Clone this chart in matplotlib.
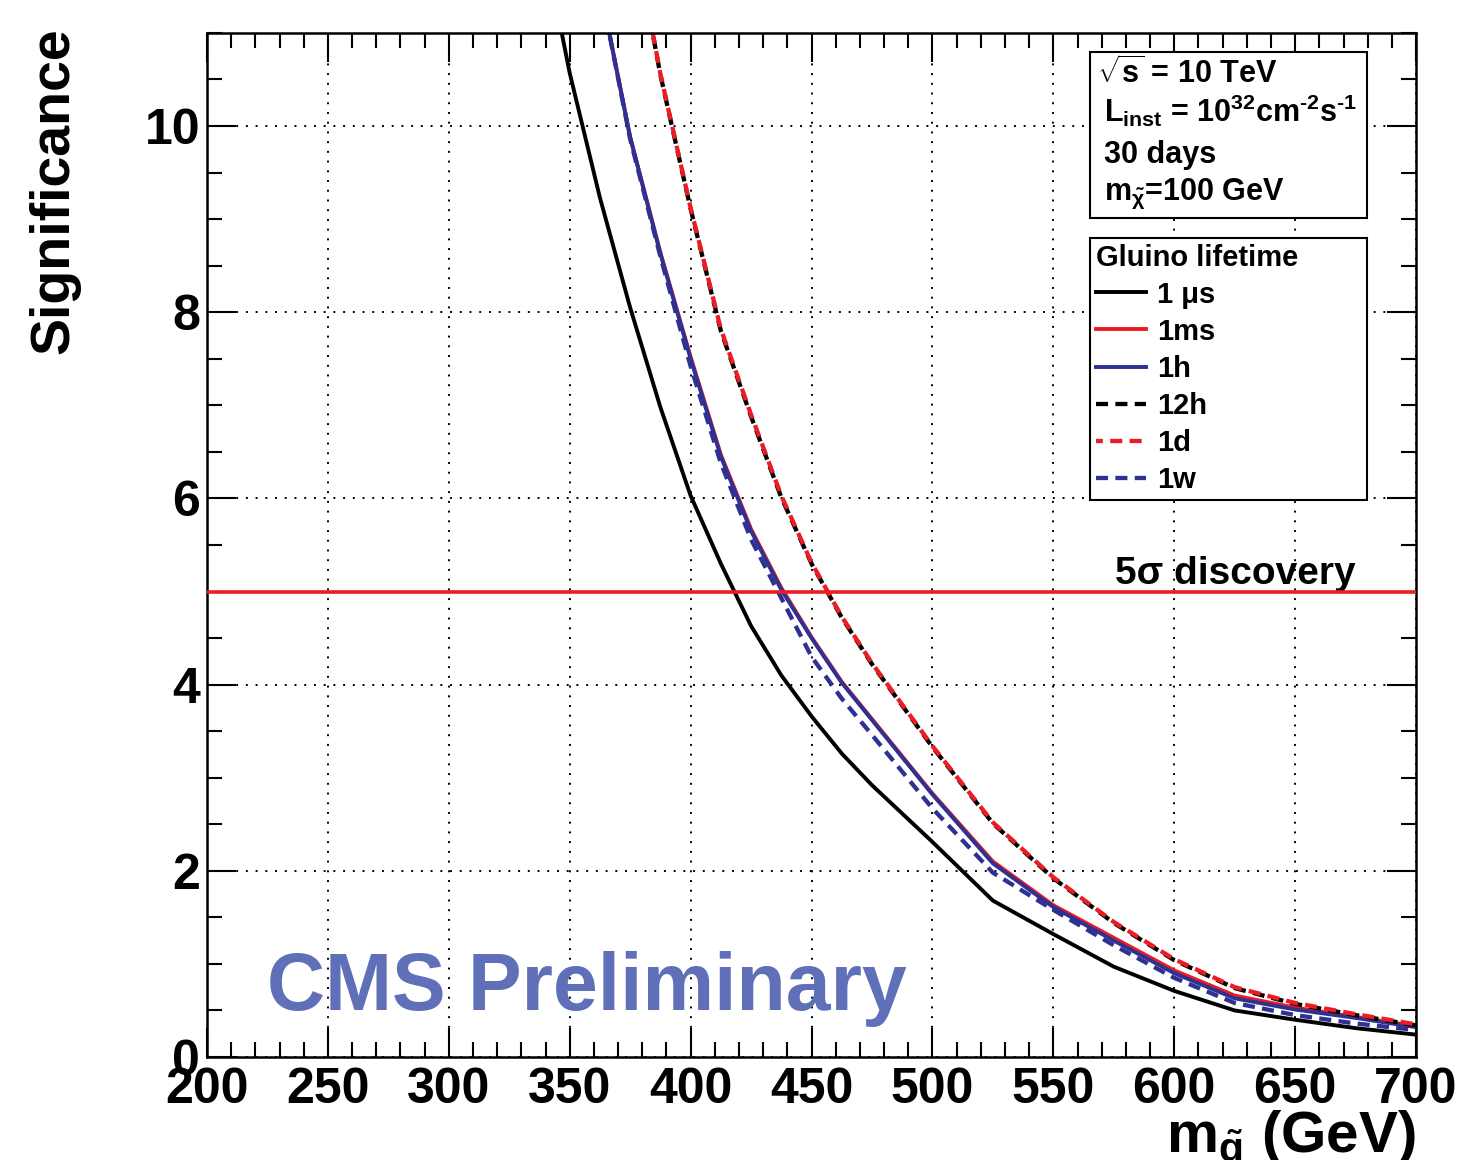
import matplotlib
matplotlib.use("Agg")
import matplotlib.pyplot as plt
from matplotlib.patches import Rectangle
from matplotlib.ticker import MultipleLocator

plt.rcParams['font.family'] = ['Liberation Sans', 'DejaVu Sans']
plt.rcParams['font.weight'] = 'bold'
plt.rcParams['mathtext.fontset'] = 'custom'
plt.rcParams['mathtext.rm'] = 'Liberation Sans:bold'
plt.rcParams['mathtext.it'] = 'Liberation Sans:bold'
plt.rcParams['mathtext.bf'] = 'Liberation Sans:bold'

# gluino mass (GeV)
mass = [325, 337.5, 350, 362.5, 375, 387.5, 400, 412.5, 425, 437.5, 450, 462.5,
        475, 500, 525, 550, 575, 600, 625, 650, 675, 700]

# significance for each gluino lifetime
sig_1us = [14.2, 12.2, 10.57, 9.23, 8.05, 6.98, 6.03, 5.3, 4.63, 4.1, 3.66, 3.26,
           2.92, 2.31, 1.68, 1.32, 0.97, 0.71, 0.5, 0.4, 0.31, 0.24]
sig_1ms = [16.5, 15.0, 13.2, 11.5, 9.88, 8.64, 7.52, 6.47, 5.67, 5.04, 4.51, 4.03,
           3.63, 2.83, 2.10, 1.63, 1.28, 0.93, 0.66, 0.53, 0.43, 0.33]
sig_1h = [16.5, 15.0, 13.2, 11.5, 9.88, 8.63, 7.5, 6.45, 5.65, 5.02, 4.5, 4.02,
          3.62, 2.82, 2.08, 1.61, 1.25, 0.9, 0.63, 0.51, 0.42, 0.32]
sig_12h = [20.5, 18.2, 16.0, 14.0, 12.3, 10.55, 9.11, 7.8, 6.88, 6.01, 5.3, 4.72,
           4.22, 3.33, 2.51, 1.92, 1.44, 1.04, 0.74, 0.57, 0.45, 0.34]
sig_1d = [20.5, 18.2, 16.0, 14.0, 12.3, 10.56, 9.12, 7.82, 6.9, 6.03, 5.31, 4.73,
          4.23, 3.34, 2.52, 1.93, 1.45, 1.05, 0.75, 0.58, 0.46, 0.35]
sig_1w = [16.5, 15.0, 13.2, 11.5, 9.86, 8.6, 7.42, 6.38, 5.56, 4.93, 4.3, 3.85,
          3.46, 2.67, 1.98, 1.58, 1.2, 0.85, 0.58, 0.45, 0.36, 0.29]

discovery = 5.0

RED = '#ec1c24'
BLUE = '#2e3192'
CMS_BLUE = '#6070b8'

fig = plt.figure(figsize=(14.7, 11.6), dpi=100)
ax = fig.add_axes([0.1408, 0.0888, 0.8225, 0.8828])

lw = 2.8
dlw = 3.1
dash = (2.8, 1.7)
ax.plot(mass, sig_1us, color='black', lw=lw, label='1 μs')
ax.plot(mass, sig_1ms, color=RED, lw=lw, label='1ms')
ax.plot(mass, sig_1h, color=BLUE, lw=lw, label='1h')
ax.plot(mass, sig_12h, color='black', lw=dlw, ls=(0, dash), label='12h')
ax.plot(mass, sig_1d, color=RED, lw=dlw, ls=(1.2, dash), label='1d')
ax.plot(mass, sig_1w, color=BLUE, lw=dlw, ls=(0, dash), label='1w')

ax.axhline(discovery, color=RED, lw=2.6, zorder=5)
ax.text(575.5, discovery + 0.08, '5σ discovery', fontsize=28, fontweight='bold',
        va='baseline', ha='left')

ax.set_xlim(200, 700)
ax.set_ylim(0, 11)
ax.xaxis.set_major_locator(MultipleLocator(50))
ax.xaxis.set_minor_locator(MultipleLocator(10))
ax.yaxis.set_major_locator(MultipleLocator(2))
ax.yaxis.set_minor_locator(MultipleLocator(0.5))
ax.tick_params(which='both', direction='in', top=True, right=True, width=1.5)
ax.tick_params(which='major', length=21, labelsize=36)
ax.tick_params(axis='x', which='major', pad=7)
ax.tick_params(axis='y', which='major', pad=5)
ax.tick_params(which='minor', length=11)
for lab in ax.get_xticklabels() + ax.get_yticklabels():
    lab.set_fontweight('bold')
for sp in ax.spines.values():
    sp.set_linewidth(1.8)
ax.grid(True, which='major', color='black', ls=(0, (1, 4)), lw=1.4)

ax.set_ylabel('Significance', fontsize=40, fontweight='bold', loc='top')
ax.yaxis.set_label_coords(-0.105, 1.005)
ax.set_xlabel(r'm$_{\tilde{g}}$ (GeV)', fontsize=42, fontweight='bold', loc='right')
ax.xaxis.set_label_coords(1.0, -0.05)

ax.text(225, 0.5, 'CMS Preliminary', color=CMS_BLUE, fontsize=58, fontweight='bold',
        va='baseline', ha='left', zorder=6)

# info box
ax.add_patch(Rectangle((0.7304, 0.8193), 0.2291, 0.1621, transform=ax.transAxes,
                       facecolor='white', edgecolor='black', lw=1.5, zorder=7))
info = [(0.736, 0.951, r'$\sqrt{s}$ = 10 TeV'),
        (0.742, 0.913, r'L$_{inst}$ = 10$^{32}$cm$^{\text{-}2}$s$^{\text{-}1}$'),
        (0.742, 0.873, '30 days'),
        (0.742, 0.837, r'm$_{\tilde{\chi}}$=100 GeV')]
for x, y, s in info:
    ax.text(x, y, s, transform=ax.transAxes, fontsize=22, fontweight='bold',
            va='baseline', ha='left', zorder=8)

leg = ax.legend(loc='upper left', bbox_to_anchor=(0.7304, 0.5115, 0.2291, 0.2885),
                mode='expand', title='Gluino lifetime', fontsize=21,
                title_fontproperties={'size': 21, 'weight': 'bold'}, alignment='left',
                fancybox=False, edgecolor='black', framealpha=1, borderaxespad=0,
                handlelength=1.7, handletextpad=0.4, labelspacing=0.31, borderpad=0.2)
leg.get_frame().set_linewidth(1.5)
leg.set_zorder(8)

fig.savefig('out.png', dpi=100)
